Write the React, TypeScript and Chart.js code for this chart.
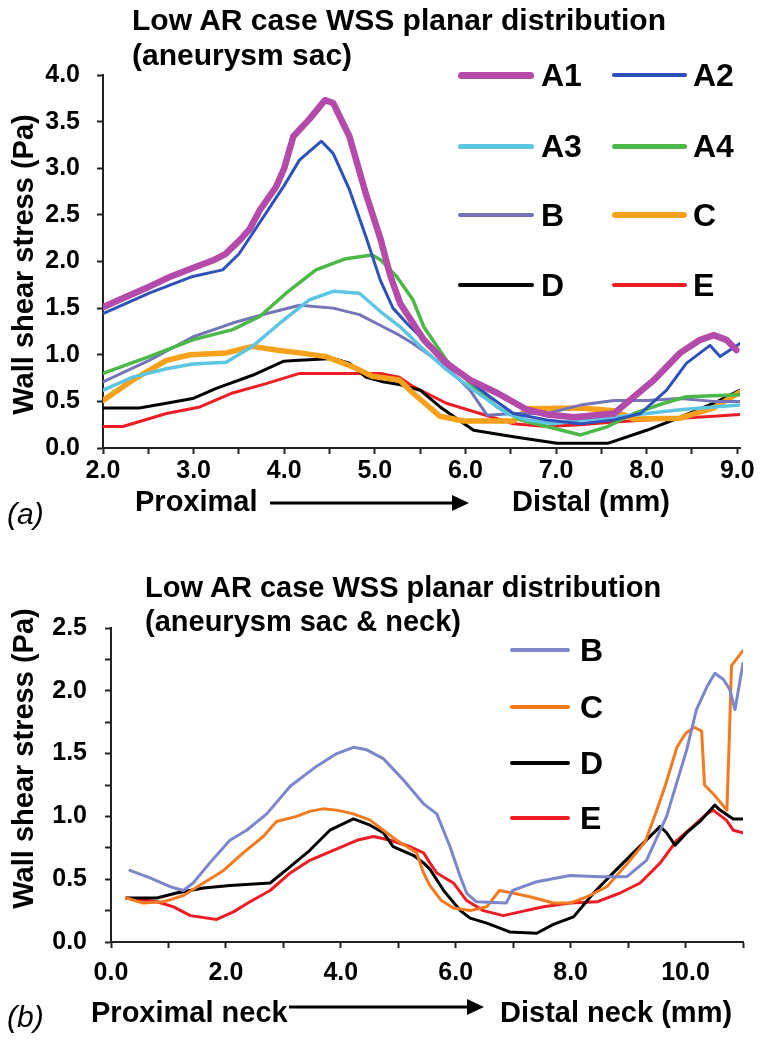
import React, { useEffect, useRef } from "react";
import { Chart, registerables } from "chart.js";

Chart.register(...registerables);

const FONT = '"Liberation Sans", Arial, Helvetica, sans-serif';

// ---------- Chart (a): aneurysm sac ----------
const A_X_TICKS = [2, 2.5, 3, 3.5, 4, 4.5, 5, 5.5, 6, 6.5, 7, 7.5, 8, 8.5, 9];
const A_Y_TICKS = [0, 0.5, 1, 1.5, 2, 2.5, 3, 3.5, 4];

const a1X = [2.0, 2.25, 2.51, 2.75, 2.99, 3.21, 3.35, 3.51, 3.62, 3.73, 3.91, 4.0, 4.1, 4.28, 4.45, 4.54, 4.72, 4.9, 5.06, 5.17, 5.28, 5.54, 5.79, 6.05, 6.35, 6.68, 6.9, 7.2, 7.64, 7.86, 8.08, 8.37, 8.59, 8.74, 8.88, 8.99];
const a1Y = [1.51, 1.62, 1.73, 1.84, 1.93, 2.01, 2.08, 2.23, 2.35, 2.55, 2.8, 3.0, 3.34, 3.53, 3.73, 3.7, 3.34, 2.73, 2.25, 1.85, 1.55, 1.16, 0.91, 0.73, 0.59, 0.41, 0.36, 0.33, 0.37, 0.55, 0.73, 1.02, 1.16, 1.21, 1.16, 1.05];

const a2X = [2.0, 2.51, 2.99, 3.32, 3.5, 3.65, 3.99, 4.17, 4.41, 4.54, 4.72, 4.9, 5.06, 5.2, 5.35, 5.61, 5.98, 6.27, 6.53, 6.9, 7.27, 7.64, 7.93, 8.22, 8.44, 8.7, 8.81, 9.03];
const a2Y = [1.44, 1.66, 1.84, 1.91, 2.08, 2.3, 2.8, 3.09, 3.29, 3.16, 2.77, 2.27, 1.8, 1.5, 1.34, 1.09, 0.77, 0.55, 0.37, 0.3, 0.26, 0.3, 0.37, 0.62, 0.91, 1.1, 0.98, 1.12];

const a3X = [2.0, 2.33, 2.7, 2.99, 3.36, 3.65, 3.99, 4.28, 4.54, 4.83, 5.09, 5.28, 5.5, 5.79, 6.09, 6.46, 6.68, 6.97, 7.27, 7.64, 8.0, 8.37, 8.74, 9.03];
const a3Y = [0.62, 0.76, 0.85, 0.9, 0.92, 1.09, 1.37, 1.59, 1.68, 1.66, 1.44, 1.3, 1.09, 0.84, 0.62, 0.37, 0.3, 0.26, 0.3, 0.33, 0.37, 0.41, 0.44, 0.46];

const a4X = [2.0, 2.51, 2.99, 3.43, 3.73, 4.02, 4.35, 4.68, 4.97, 5.06, 5.24, 5.42, 5.54, 5.79, 6.09, 6.35, 6.61, 6.9, 7.27, 7.57, 7.86, 8.19, 8.44, 9.03];
const a4Y = [0.8, 0.98, 1.16, 1.27, 1.41, 1.66, 1.91, 2.03, 2.07, 2.02, 1.84, 1.59, 1.3, 0.94, 0.66, 0.44, 0.3, 0.23, 0.14, 0.23, 0.37, 0.48, 0.55, 0.57];

const aBX = [2.0, 2.51, 2.99, 3.43, 3.8, 4.17, 4.54, 4.83, 5.09, 5.27, 5.42, 5.79, 6.05, 6.24, 6.53, 6.9, 7.27, 7.64, 8.0, 8.37, 8.74, 9.03];
const aBY = [0.71, 0.94, 1.19, 1.34, 1.44, 1.53, 1.5, 1.43, 1.3, 1.21, 1.12, 0.87, 0.62, 0.35, 0.37, 0.37, 0.46, 0.51, 0.51, 0.53, 0.5, 0.5];

const aCX = [2.0, 2.33, 2.7, 2.96, 3.36, 3.65, 3.91, 4.17, 4.46, 4.76, 4.97, 5.27, 5.42, 5.72, 5.98, 6.53, 6.68, 7.27, 7.64, 7.86, 8.37, 8.74, 9.03];
const aCY = [0.51, 0.73, 0.94, 1.0, 1.02, 1.09, 1.05, 1.02, 0.98, 0.87, 0.77, 0.73, 0.59, 0.34, 0.29, 0.29, 0.42, 0.43, 0.4, 0.31, 0.32, 0.43, 0.6];

const aDX = [2.0, 2.4, 2.7, 2.99, 3.25, 3.65, 3.99, 4.17, 4.54, 4.72, 4.9, 5.09, 5.27, 5.5, 5.72, 6.09, 6.53, 7.01, 7.57, 8.0, 8.37, 8.74, 9.03];
const aDY = [0.43, 0.43, 0.48, 0.53, 0.64, 0.78, 0.93, 0.94, 0.96, 0.91, 0.76, 0.71, 0.68, 0.62, 0.44, 0.19, 0.12, 0.05, 0.05, 0.19, 0.33, 0.48, 0.62];

const aEX = [2.0, 2.22, 2.7, 3.07, 3.43, 3.8, 4.17, 4.54, 4.9, 5.06, 5.27, 5.42, 5.79, 6.16, 6.53, 6.9, 7.27, 7.64, 8.0, 8.37, 8.74, 9.03];
const aEY = [0.23, 0.23, 0.37, 0.44, 0.59, 0.69, 0.8, 0.8, 0.8, 0.8, 0.76, 0.66, 0.48, 0.37, 0.26, 0.23, 0.25, 0.28, 0.3, 0.32, 0.34, 0.36];

// ---------- Chart (b): aneurysm sac & neck ----------
const B_X_TICKS = [0, 1, 2, 3, 4, 5, 6, 7, 8, 9, 10, 11];
const B_Y_TICKS = [0, 0.25, 0.5, 0.75, 1, 1.25, 1.5, 1.75, 2, 2.25, 2.5];

const bBX = [0.33, 0.68, 1.03, 1.26, 1.43, 1.72, 2.07, 2.36, 2.71, 3.12, 3.58, 3.93, 4.22, 4.45, 4.74, 5.09, 5.44, 5.67, 5.9, 6.08, 6.19, 6.36, 6.88, 6.99, 7.41, 7.99, 8.51, 8.98, 9.32, 9.67, 10.02, 10.19, 10.37, 10.51, 10.66, 10.77, 10.86, 10.91, 11.0];
const bBY = [0.57, 0.51, 0.44, 0.41, 0.47, 0.63, 0.81, 0.89, 1.02, 1.24, 1.4, 1.5, 1.55, 1.53, 1.46, 1.29, 1.1, 1.02, 0.76, 0.52, 0.39, 0.32, 0.31, 0.41, 0.48, 0.53, 0.52, 0.52, 0.65, 1.0, 1.53, 1.85, 2.03, 2.14, 2.09, 2.01, 1.85, 1.98, 2.22];

const bCX = [0.27, 0.56, 0.91, 1.26, 1.61, 1.96, 2.3, 2.65, 2.88, 3.23, 3.46, 3.69, 3.93, 4.22, 4.51, 4.74, 4.97, 5.32, 5.44, 5.55, 5.75, 5.96, 6.25, 6.54, 6.76, 6.99, 7.29, 7.7, 7.99, 8.28, 8.63, 8.98, 9.3, 9.5, 9.65, 9.85, 10.0, 10.15, 10.28, 10.33, 10.5, 10.72, 10.76, 10.8, 11.0];
const bCY = [0.35, 0.31, 0.32, 0.37, 0.47, 0.57, 0.71, 0.84, 0.96, 1.0, 1.04, 1.06, 1.05, 1.02, 0.97, 0.89, 0.81, 0.71, 0.55, 0.45, 0.33, 0.27, 0.25, 0.28, 0.41, 0.39, 0.36, 0.31, 0.31, 0.36, 0.44, 0.62, 0.8, 1.05, 1.25, 1.55, 1.66, 1.71, 1.68, 1.25, 1.17, 1.05, 1.6, 2.2, 2.32];

const bDX = [0.27, 0.8, 1.14, 1.61, 2.07, 2.77, 3.12, 3.46, 3.81, 4.22, 4.51, 4.74, 4.91, 5.26, 5.44, 5.55, 5.79, 6.08, 6.25, 6.54, 6.94, 7.41, 7.7, 8.05, 8.4, 8.74, 9.09, 9.56, 9.67, 9.82, 10.02, 10.25, 10.51, 10.6, 10.83, 11.0];
const bDY = [0.35, 0.35, 0.39, 0.43, 0.45, 0.47, 0.6, 0.73, 0.89, 0.98, 0.93, 0.87, 0.76, 0.69, 0.63, 0.58, 0.41, 0.25, 0.19, 0.15, 0.08, 0.07, 0.14, 0.2, 0.39, 0.55, 0.71, 0.92, 0.87, 0.77, 0.87, 0.96, 1.09, 1.05, 0.98, 0.98];

const bEX = [0.27, 0.8, 1.09, 1.38, 1.84, 2.13, 2.42, 2.77, 3.12, 3.46, 3.87, 4.28, 4.57, 4.86, 5.2, 5.44, 5.55, 5.67, 5.96, 6.19, 6.48, 6.83, 7.12, 7.53, 7.99, 8.46, 8.86, 9.21, 9.56, 9.85, 10.13, 10.37, 10.48, 10.71, 10.83, 11.0];
const bEY = [0.35, 0.32, 0.28, 0.21, 0.18, 0.24, 0.32, 0.41, 0.55, 0.65, 0.73, 0.81, 0.84, 0.81, 0.76, 0.71, 0.63, 0.55, 0.47, 0.33, 0.25, 0.21, 0.24, 0.28, 0.31, 0.32, 0.39, 0.47, 0.63, 0.81, 0.92, 1.02, 1.05, 0.97, 0.89, 0.87];

type Series = { label: string; xs: number[]; ys: number[]; color: string; width: number };

const seriesA: Series[] = [
  { label: "A1", xs: a1X, ys: a1Y, color: "#b44aaa", width: 6.5 },
  { label: "A2", xs: a2X, ys: a2Y, color: "#2e52b8", width: 3 },
  { label: "A3", xs: a3X, ys: a3Y, color: "#5cc6e0", width: 3.5 },
  { label: "A4", xs: a4X, ys: a4Y, color: "#4cb848", width: 3.5 },
  { label: "B", xs: aBX, ys: aBY, color: "#7474b8", width: 3 },
  { label: "C", xs: aCX, ys: aCY, color: "#f5a11c", width: 5.5 },
  { label: "D", xs: aDX, ys: aDY, color: "#000000", width: 3 },
  { label: "E", xs: aEX, ys: aEY, color: "#ee1c24", width: 3 },
];

const seriesB: Series[] = [
  { label: "B", xs: bBX, ys: bBY, color: "#7b87c9", width: 3 },
  { label: "C", xs: bCX, ys: bCY, color: "#f47a20", width: 3 },
  { label: "D", xs: bDX, ys: bDY, color: "#000000", width: 3 },
  { label: "E", xs: bEX, ys: bEY, color: "#ee1c24", width: 3 },
];

type Cfg = {
  series: Series[];
  xMin: number; xMax: number; yMin: number; yMax: number;
  xTicks: number[]; yTicks: number[];
  xLabel: (v: number) => string; yLabel: (v: number) => string;
  padTop: number; padRight: number; yWidth: number; xHeight: number;
  xPad: number; yPad: number;
};

function makeChart(canvas: HTMLCanvasElement, c: Cfg) {
  const tickFont = { family: FONT, size: 25, weight: "bold" as const };
  return new Chart(canvas, {
    type: "line",
    data: {
      datasets: c.series.map((s) => ({
        label: s.label,
        data: s.xs.map((x, i) => ({ x, y: s.ys[i] })),
        borderColor: s.color,
        backgroundColor: s.color,
        borderWidth: s.width,
        pointRadius: 0,
        tension: 0,
        fill: false,
        borderJoinStyle: "round" as const,
        borderCapStyle: "round" as const,
      })),
    },
    options: {
      animation: false,
      responsive: false,
      devicePixelRatio: 1,
      layout: { padding: { top: c.padTop, right: c.padRight, left: 0, bottom: 0 } },
      plugins: { legend: { display: false }, tooltip: { enabled: false }, title: { display: false } },
      scales: {
        x: {
          type: "linear",
          min: c.xMin,
          max: c.xMax,
          afterBuildTicks: (scale: any) => {
            scale.ticks = c.xTicks.map((v) => ({ value: v }));
          },
          afterFit: (scale: any) => {
            scale.height = c.xHeight;
          },
          ticks: {
            autoSkip: false,
            maxRotation: 0,
            minRotation: 0,
            padding: c.xPad,
            color: "#000",
            font: tickFont,
            callback: (v: any) => c.xLabel(Number(v)),
          },
          grid: { display: true, drawOnChartArea: false, drawTicks: true, tickLength: 6, tickWidth: 2, tickColor: "#222", color: "#222" },
          border: { display: true, color: "#222", width: 2 },
        },
        y: {
          type: "linear",
          min: c.yMin,
          max: c.yMax,
          afterBuildTicks: (scale: any) => {
            scale.ticks = c.yTicks.map((v) => ({ value: v }));
          },
          afterFit: (scale: any) => {
            scale.width = c.yWidth;
          },
          ticks: {
            autoSkip: false,
            padding: c.yPad,
            color: "#000",
            font: tickFont,
            callback: (v: any) => c.yLabel(Number(v)),
          },
          grid: { display: true, drawOnChartArea: false, drawTicks: true, tickLength: 6, tickWidth: 2, tickColor: "#222", color: "#222" },
          border: { display: true, color: "#222", width: 2 },
        },
      },
    },
  } as any);
}

function Txt(p: { x: number; base: number; size: number; bold?: boolean; italic?: boolean; children: React.ReactNode }) {
  return (
    <div
      style={{
        position: "absolute",
        left: p.x,
        top: p.base - p.size * 0.8465,
        fontSize: p.size,
        lineHeight: `${p.size}px`,
        fontWeight: p.bold === false ? 400 : 700,
        fontStyle: p.italic ? "italic" : "normal",
        whiteSpace: "nowrap",
        color: "#000",
        fontFamily: FONT,
      }}
    >
      {p.children}
    </div>
  );
}

function VText(p: { cx: number; cy: number; size: number; children: React.ReactNode }) {
  const w = 420;
  return (
    <div
      style={{
        position: "absolute",
        left: p.cx - w / 2,
        top: p.cy - p.size / 2,
        width: w,
        textAlign: "center",
        fontSize: p.size,
        lineHeight: `${p.size}px`,
        fontWeight: 700,
        whiteSpace: "nowrap",
        transform: "rotate(-90deg)",
        transformOrigin: "50% 50%",
        color: "#000",
        fontFamily: FONT,
      }}
    >
      {p.children}
    </div>
  );
}

function LegendItem(p: { x1: number; x2: number; tx: number; y: number; color: string; width: number; label: string; size: number }) {
  return (
    <>
      <div
        style={{
          position: "absolute",
          left: p.x1,
          top: p.y - p.width / 2,
          width: p.x2 - p.x1,
          height: p.width,
          background: p.color,
          borderRadius: p.width / 2,
        }}
      />
      <Txt x={p.tx} base={p.y + p.size * 0.36} size={p.size}>
        {p.label}
      </Txt>
    </>
  );
}

const legendA = [
  { label: "A1", col: 0, row: 0, color: "#b44aaa", width: 7 },
  { label: "A2", col: 1, row: 0, color: "#2e52b8", width: 3.5 },
  { label: "A3", col: 0, row: 1, color: "#5cc6e0", width: 5 },
  { label: "A4", col: 1, row: 1, color: "#4cb848", width: 5 },
  { label: "B", col: 0, row: 2, color: "#7474b8", width: 4 },
  { label: "C", col: 1, row: 2, color: "#f5a11c", width: 6.5 },
  { label: "D", col: 0, row: 3, color: "#000000", width: 4 },
  { label: "E", col: 1, row: 3, color: "#ee1c24", width: 4 },
];
const legendARows = [75, 146, 215, 285];
const legendACols = [
  { x1: 458, x2: 534, tx: 541 },
  { x1: 612, x2: 687, tx: 693 },
];

const legendB = [
  { label: "B", color: "#7b87c9" },
  { label: "C", color: "#f47a20" },
  { label: "D", color: "#000000" },
  { label: "E", color: "#ee1c24" },
];
const legendBRows = [650, 707, 763, 818];

export default function App() {
  const refA = useRef<HTMLCanvasElement>(null);
  const refB = useRef<HTMLCanvasElement>(null);

  useEffect(() => {
    const a = makeChart(refA.current!, {
      series: seriesA,
      xMin: 2, xMax: 9.03, yMin: 0, yMax: 4,
      xTicks: A_X_TICKS, yTicks: A_Y_TICKS,
      xLabel: (v) => (Math.abs(v - Math.round(v)) < 1e-6 ? v.toFixed(1) : ""),
      yLabel: (v) => v.toFixed(1),
      padTop: 75, padRight: 764 - 740, yWidth: 103, xHeight: 540 - 448,
      xPad: 2, yPad: 17,
    });
    const b = makeChart(refB.current!, {
      series: seriesB,
      xMin: 0, xMax: 11, yMin: 0, yMax: 2.5,
      xTicks: B_X_TICKS, yTicks: B_Y_TICKS,
      xLabel: (v) => (Math.round(v) % 2 === 0 && v <= 10 ? v.toFixed(1) : ""),
      yLabel: (v) => (Math.abs(v * 2 - Math.round(v * 2)) < 1e-6 ? v.toFixed(1) : ""),
      padTop: 628 - 540, padRight: 764 - 743, yWidth: 111, xHeight: 510 - (942 - 540),
      xPad: 10, yPad: 18,
    });
    return () => {
      a.destroy();
      b.destroy();
    };
  }, []);

  return (
    <div style={{ position: "absolute", left: 0, top: 0, width: 764, height: 1050, background: "#fff", overflow: "hidden", fontFamily: FONT }}>
      <canvas ref={refA} width={764} height={540} style={{ position: "absolute", left: 0, top: 0, width: 764, height: 540 }} />
      <canvas ref={refB} width={764} height={510} style={{ position: "absolute", left: 0, top: 540, width: 764, height: 510 }} />

      {/* Chart (a) texts */}
      <Txt x={132} base={30} size={30}>Low AR case WSS planar distribution</Txt>
      <Txt x={132} base={65} size={30}>(aneurysm sac)</Txt>
      <VText cx={23} cy={264} size={29}>Wall shear stress (Pa)</VText>
      <Txt x={7} base={524} size={30} bold={false} italic>(a)</Txt>
      <Txt x={135} base={512} size={29}>Proximal</Txt>
      <Txt x={512} base={512} size={29}>Distal (mm)</Txt>
      {legendA.map((l) => (
        <LegendItem
          key={"a" + l.label}
          x1={legendACols[l.col].x1}
          x2={legendACols[l.col].x2}
          tx={legendACols[l.col].tx}
          y={legendARows[l.row]}
          color={l.color}
          width={l.width}
          label={l.label}
          size={32}
        />
      ))}

      {/* Chart (b) texts */}
      <Txt x={145} base={598} size={29}>Low AR case WSS planar distribution</Txt>
      <Txt x={145} base={632} size={29}>(aneurysm sac &amp; neck)</Txt>
      <VText cx={23} cy={758} size={29}>Wall shear stress (Pa)</VText>
      <Txt x={7} base={1027} size={30} bold={false} italic>(b)</Txt>
      <Txt x={91} base={1023} size={29}>Proximal neck</Txt>
      <Txt x={500} base={1023} size={29}>Distal neck (mm)</Txt>
      {legendB.map((l, i) => (
        <LegendItem
          key={"b" + l.label}
          x1={510}
          x2={570}
          tx={580}
          y={legendBRows[i]}
          color={l.color}
          width={4}
          label={l.label}
          size={32}
        />
      ))}

      <svg style={{ position: "absolute", left: 0, top: 0 }} width={764} height={1050}>
        <line x1={270} y1={503} x2={455} y2={503} stroke="#000" strokeWidth={3} />
        <polygon points="452,495 469,503 452,511" fill="#000" />
        <line x1={289} y1={1007} x2={470} y2={1007} stroke="#000" strokeWidth={3} />
        <polygon points="467,999 484,1007 467,1015" fill="#000" />
      </svg>
    </div>
  );
}
